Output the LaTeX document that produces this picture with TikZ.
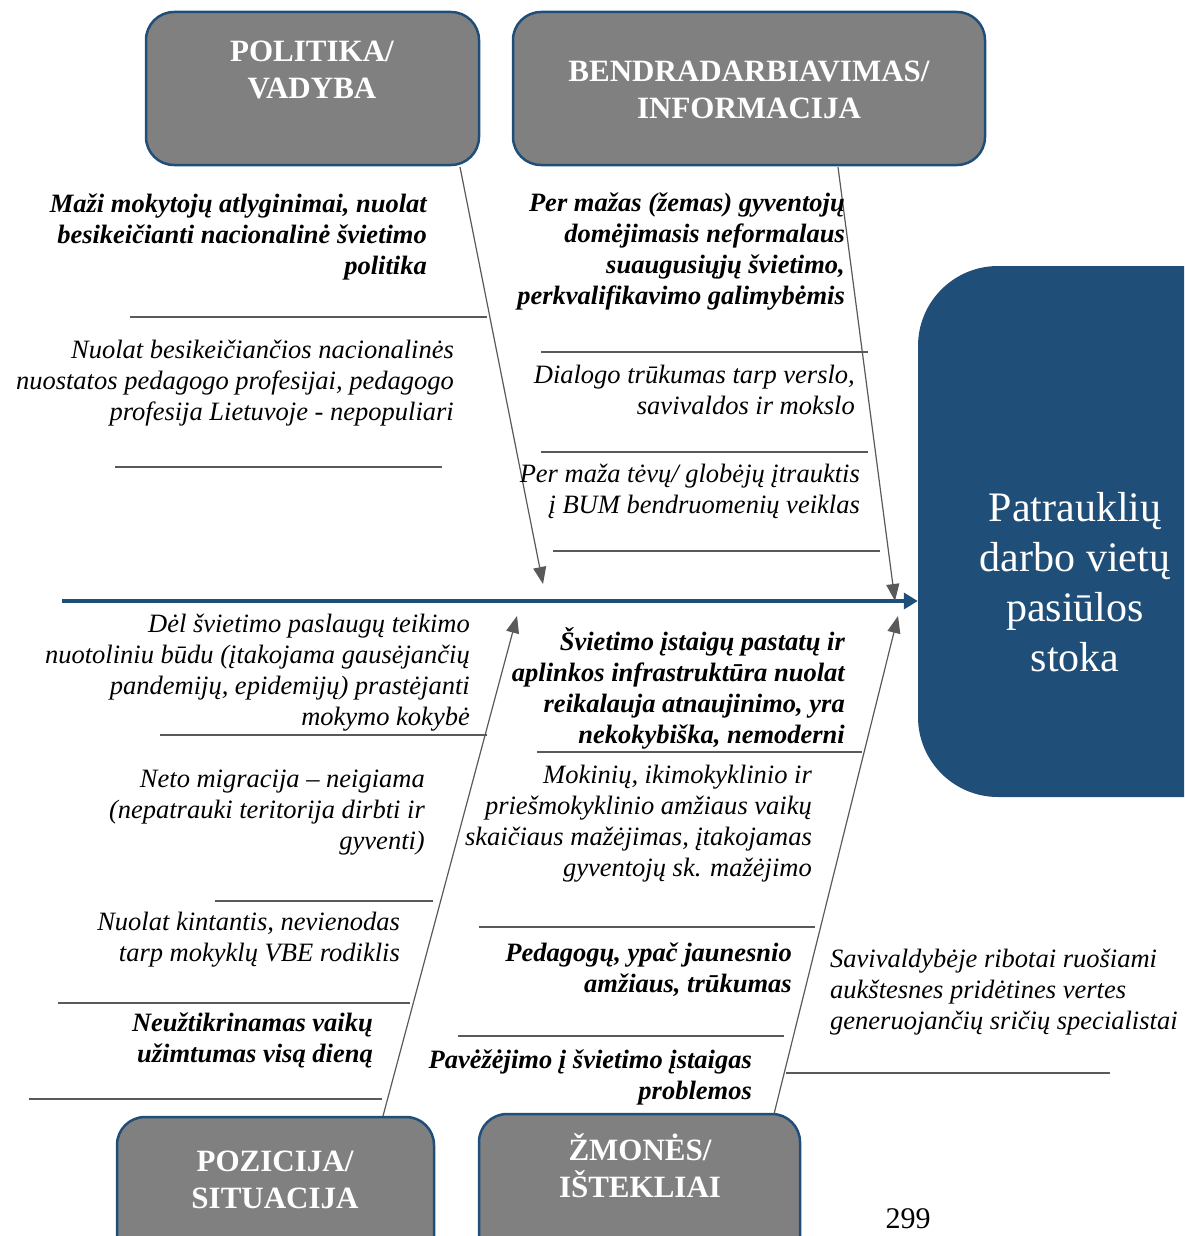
\documentclass[tikz,border=0pt]{standalone}
\usepackage{fontspec}
\setmainfont{Liberation Serif}
\usetikzlibrary{arrows.meta}
\definecolor{spineblue}{RGB}{31,78,121}
\definecolor{boxgray}{RGB}{128,128,128}
\definecolor{bonegray}{RGB}{89,89,89}
\tikzset{
  catbox/.style={draw=spineblue, line width=2.5pt, fill=boxgray, rounded corners=28pt, inner sep=0},
  cattext/.style={text=white, font=\fontsize{31}{37}\selectfont\bfseries, align=center, anchor=base, inner sep=0},
  bone/.style={draw=bonegray, line width=1.2pt, -{Triangle[length=17pt,width=13pt]}},
  twig/.style={draw=bonegray, line width=1.2pt},
  spine/.style={draw=spineblue, line width=3.5pt, -{Triangle[length=14pt,width=16pt]}},
  causeb/.style={font=\fontsize{26.5}{31}\selectfont\bfseries\itshape, align=right, anchor=base east, inner sep=0},
  causei/.style={font=\fontsize{26.5}{31}\selectfont\itshape, align=right, anchor=base east, inner sep=0},
}
\begin{document}
\begin{tikzpicture}[x=1pt, y=-1pt]
  \useasboundingbox (0,0) rectangle (1184,1236);
  \clip (0,0) rectangle (1184,1236);
  % Category boxes (top)
  \node[catbox, minimum width=333, minimum height=153] (polbox) at (312.5,88.5) {};
  \node[cattext] (poltxt) at (312,99) {POLITIKA/\\VADYBA};
  \node[catbox, minimum width=472, minimum height=153] (benbox) at (749,88.5) {};
  \node[cattext] (bentxt) at (749,119) {BENDRADARBIAVIMAS/\\INFORMACIJA};
  % Category boxes (bottom)
  \node[catbox, minimum width=317, minimum height=160] (pozbox) at (275.5,1197) {};
  \node[cattext] (poztxt) at (275,1208) {POZICIJA/\\SITUACIJA};
  \node[catbox, minimum width=321, minimum height=166] (zmobox) at (639.5,1197) {};
  \node[cattext] (zmotxt) at (640,1197) {ŽMONĖS/\\IŠTEKLIAI};
  % Effect (head)
  \node[fill=spineblue, rounded corners=80pt, minimum width=382, minimum height=531, inner sep=0] (effbox) at (1109,531.5) {};
  \node[text=white, font=\fontsize{42}{50}\selectfont, align=center] (efftxt) at (1075,582) {Patrauklių\\darbo vietų\\pasiūlos\\stoka};
  % Spine
  \coordinate (spinestart) at (62,601);
  \draw[spine] (spinestart) -- (spinestart -| effbox.west);
  % Bones
  \coordinate (polstart) at (460,167);  \coordinate (polend) at (543,584);
  \coordinate (benstart) at (838,167);  \coordinate (benend) at (895,601);
  \coordinate (pozstart) at (383,1116); \coordinate (pozend) at (517,616);
  \coordinate (zmostart) at (774,1114); \coordinate (zmoend) at (898,616);
  \draw[bone] (polstart) -- (polend);
  \draw[bone] (benstart) -- (benend);
  \draw[bone] (pozstart) -- (pozend);
  \draw[bone] (zmostart) -- (zmoend);
  % Twigs
  \foreach \xa/\xb/\yy in {130/487/317, 115/442/467, 541/868/352, 541/868/452, 553/880/551,
      160/487/735, 215/433/901, 58/410/1003, 29/382/1099,
      537/862/752, 479/815/927, 458/784/1036, 786/1110/1073}
    \draw[twig] (\xa,\yy) -- (\xb,\yy);
  % Causes: politika / vadyba
  \node[causeb] (c1) at (427,274) {Maži mokytojų atlyginimai, nuolat\\besikeičianti nacionalinė švietimo\\politika};
  \node[causei] (c2) at (454,420) {Nuolat besikeičiančios nacionalinės\\nuostatos pedagogo profesijai, pedagogo\\profesija Lietuvoje - nepopuliari};
  % Causes: bendradarbiavimas / informacija
  \node[causeb] (c3) at (845,304) {Per mažas (žemas) gyventojų\\domėjimasis neformalaus\\suaugusiųjų švietimo,\\perkvalifikavimo galimybėmis};
  \node[causei] (c4) at (855,414) {Dialogo trūkumas tarp verslo,\\savivaldos ir mokslo};
  \node[causei] (c5) at (860,513) {Per maža tėvų/ globėjų įtrauktis\\į BUM bendruomenių veiklas};
  % Causes: pozicija / situacija
  \node[causei] (c6) at (470,725) {Dėl švietimo paslaugų teikimo\\nuotoliniu būdu (įtakojama gausėjančių\\pandemijų, epidemijų) prastėjanti\\mokymo kokybė};
  \node[causei] (c7) at (425,849) {Neto migracija – neigiama\\(nepatrauki teritorija dirbti ir\\gyventi)};
  \node[causei] (c8) at (400,961) {Nuolat kintantis, nevienodas\\tarp mokyklų VBE rodiklis};
  \node[causeb] (c9) at (373,1062) {Neužtikrinamas vaikų\\užimtumas visą dieną};
  % Causes: zmones / istekliai
  \node[causeb] (c10) at (845,743) {Švietimo įstaigų pastatų ir\\aplinkos infrastruktūra nuolat\\reikalauja atnaujinimo, yra\\nekokybiška, nemoderni};
  \node[causei] (c11) at (812,876) {Mokinių, ikimokyklinio ir\\priešmokyklinio amžiaus vaikų\\skaičiaus mažėjimas, įtakojamas\\gyventojų sk. mažėjimo};
  \node[causeb] (c12) at (792,992) {Pedagogų, ypač jaunesnio\\amžiaus, trūkumas};
  \node[causeb] (c13) at (752,1099) {Pavėžėjimo į švietimo įstaigas\\problemos};
  \node[causei, align=left, anchor=base west] (c14) at (830,1029) {Savivaldybėje ribotai ruošiami\\aukštesnes pridėtines vertes\\generuojančių sričių specialistai};
  % Page number
  \node[font=\fontsize{30}{34}\selectfont, anchor=base, inner sep=0] (pagenum) at (908,1228) {299};
\end{tikzpicture}
\end{document}
